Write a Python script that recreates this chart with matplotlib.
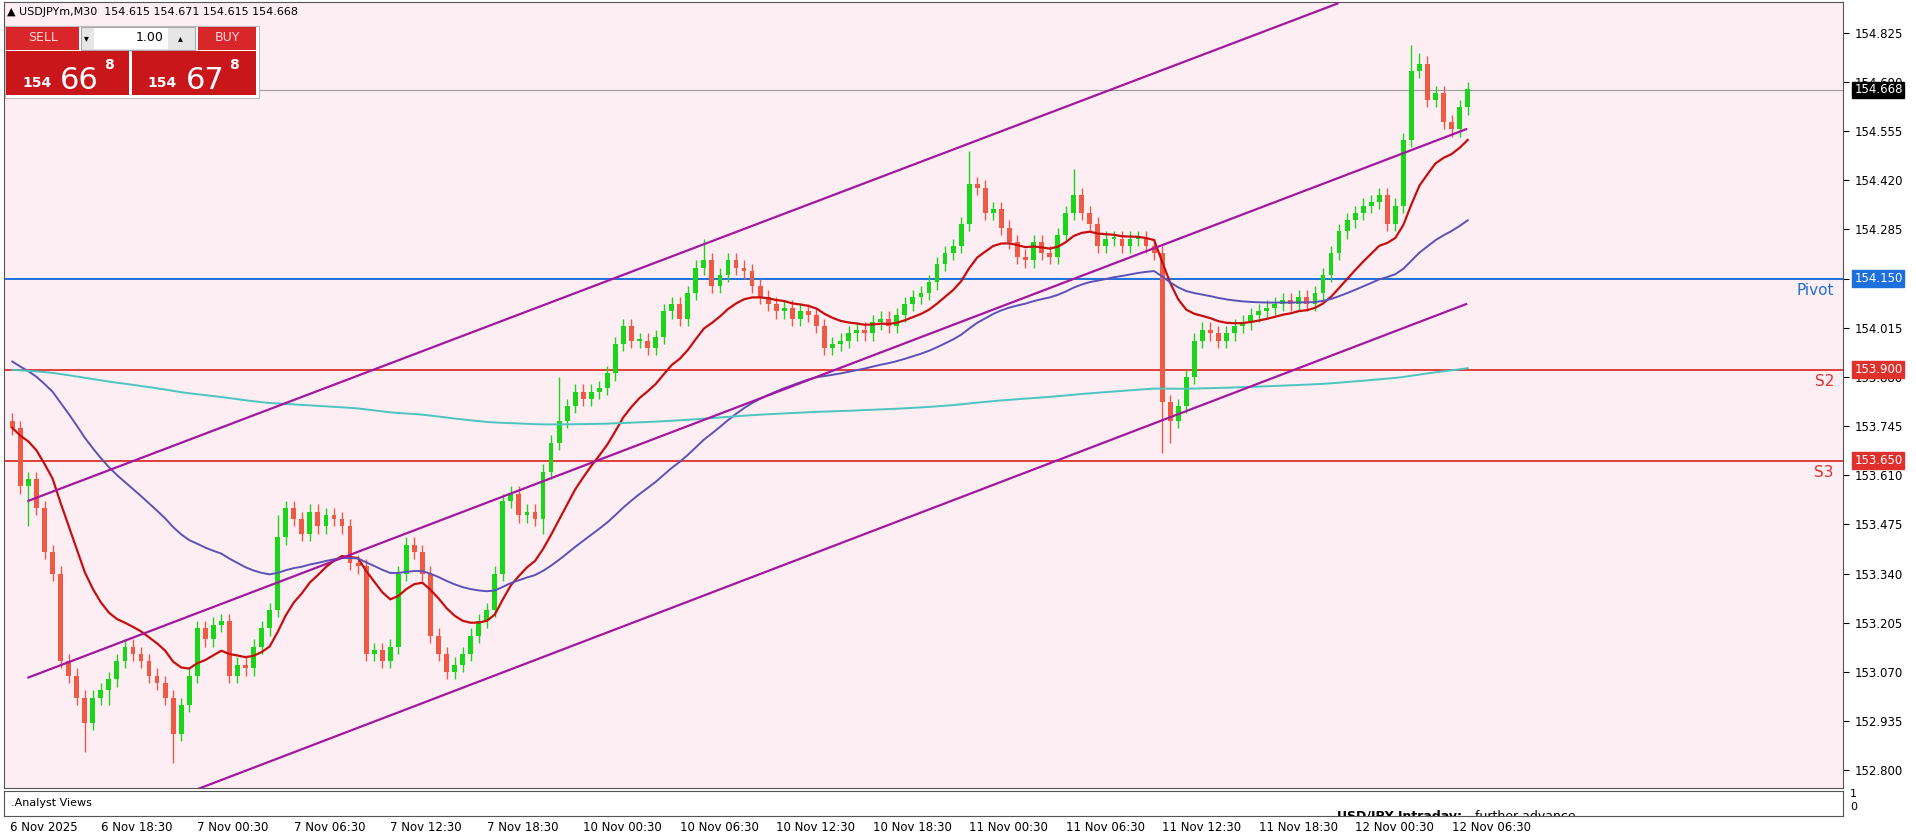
import matplotlib
matplotlib.use("Agg")
import matplotlib.pyplot as plt
import matplotlib.transforms as mtransforms
from matplotlib.patches import Rectangle
import numpy as np
import pandas as pd

closes = [
 153.74,153.58,153.60,153.52,153.40,153.34,153.10,153.06,153.00,152.93,
 153.00,153.02,153.05,153.10,153.14,153.12,153.10,153.06,153.04,153.00,
 152.90,152.98,153.06,153.19,153.16,153.20,153.21,153.06,153.09,153.08,
 153.14,153.19,153.24,153.44,153.52,153.49,153.45,153.51,153.47,153.50,
 153.49,153.47,153.37,153.36,153.12,153.13,153.10,153.14,153.34,153.42,
 153.40,153.34,153.17,153.12,153.07,153.09,153.12,153.17,153.21,153.24,
 153.34,153.54,153.56,153.50,153.51,153.49,153.62,153.70,153.76,153.80,
 153.84,153.82,153.84,153.85,153.89,153.97,154.02,153.98,153.98,153.96,
 153.99,154.06,154.08,154.04,154.11,154.18,154.20,154.13,154.16,154.20,
 154.18,154.17,154.13,154.10,154.08,154.06,154.07,154.04,154.06,154.05,
 154.02,153.96,153.97,153.98,154.00,154.01,154.00,154.03,154.04,154.02,
 154.05,154.08,154.10,154.11,154.14,154.19,154.22,154.24,154.30,154.41,
 154.40,154.33,154.34,154.29,154.25,154.21,154.20,154.25,154.22,154.21,
 154.27,154.33,154.38,154.33,154.30,154.24,154.26,154.26,154.24,154.26,
 154.26,154.24,154.22,153.81,153.76,153.80,153.88,153.98,154.01,154.00,
 153.98,154.00,154.02,154.03,154.05,154.06,154.07,154.08,154.09,154.08,
 154.10,154.08,154.11,154.16,154.22,154.28,154.31,154.33,154.35,154.36,
 154.38,154.30,154.35,154.53,154.72,154.74,154.64,154.66,154.58,154.56,
 154.62,154.67]
first_open = 153.76
long_highs = {119: 154.50, 132: 154.45, 174: 154.79, 175: 154.77, 68: 153.88, 86: 154.26, 33: 153.50}
long_lows = {9: 152.85, 20: 152.82, 143: 153.67, 144: 153.70, 66: 153.45, 2: 153.47, 12: 152.98}
default_wick = 0.02

seed_mid = 153.93
seed_slow = 153.90

upper_ch = ([2, 164.8], [153.54, 154.905])
middle_ch = ([2, 180.8], [153.055, 154.56])
lower_ch = ([23.2, 180.8], [152.75, 154.08])

pivot, s2, s3, last = 154.150, 153.900, 153.650, 154.668
tick_labels_x = ["6 Nov 18:30","7 Nov 00:30","7 Nov 06:30","7 Nov 12:30","7 Nov 18:30",
                 "10 Nov 00:30","10 Nov 06:30","10 Nov 12:30","10 Nov 18:30","11 Nov 00:30",
                 "11 Nov 06:30","11 Nov 12:30","11 Nov 18:30","12 Nov 00:30","12 Nov 06:30"]

W, H = 1570.0, 688.0
def fx(x): return x / W
def fy(y): return 1 - y / H

bg = "#fdeef3"
fig = plt.figure(figsize=(19.16, 8.4), dpi=100, facecolor="white")
ax = fig.add_axes([0.002, 0.0625, 0.960, 0.935], facecolor=bg)
n = len(closes)
c = np.array(closes)
o = np.concatenate([[first_open], c[:-1]])
hi = np.maximum(o, c) + default_wick
lo = np.minimum(o, c) - default_wick
for k, v in long_highs.items(): hi[k] = v
for k, v in long_lows.items(): lo[k] = v
idx = np.arange(n)
up = c >= o
gcol, rcol = "#19d619", "#ef5a46"
cols = np.where(up, gcol, rcol)
ax.vlines(idx, lo, hi, colors=cols, lw=1, zorder=3)
ax.bar(idx, np.maximum(np.abs(c - o), 0.004), bottom=np.minimum(o, c), width=0.6, color=cols, zorder=4)

s = pd.Series(c)
ema_fast = s.ewm(span=14, adjust=False).mean()
ema_mid = pd.Series(np.concatenate([[seed_mid], c])).ewm(span=48, adjust=False).mean()[1:]
ema_slow = pd.Series(np.concatenate([[seed_slow], c])).ewm(span=500, adjust=False).mean()[1:]
ax.plot(idx, ema_fast, color="#c80f0f", lw=1.6, zorder=5)
ax.plot(idx, ema_mid, color="#5b52b8", lw=1.4, zorder=5)
ax.plot(idx, ema_slow, color="#4cc4c0", lw=1.4, zorder=5)

for xs, ys in (upper_ch, middle_ch, lower_ch):
    ax.plot(xs, ys, color="#a3189f", lw=1.6, zorder=6)

ax.axhline(pivot, color="#1e6fdc", lw=1.4, zorder=2)
ax.axhline(s2, color="#e0302c", lw=1.3, zorder=2)
ax.axhline(s3, color="#e0302c", lw=1.3, zorder=2)
ax.axhline(last, color="#9a9a9a", lw=0.8, zorder=2)

ax.set_xlim(-1.06, 227.7)
ax.set_ylim(152.753, 154.909)
ticks = [152.800 + 0.135 * k for k in range(16)]
ax.yaxis.tick_right()
ax.set_yticks(ticks)
ax.set_yticklabels([f"{t:.3f}" for t in ticks], fontsize=8.5)
ax.tick_params(axis="y", length=4, pad=4)
ax.set_xticks([])
for sp in ax.spines.values():
    sp.set_color("#555555"); sp.set_linewidth(0.8)

tr = mtransforms.blended_transform_factory(ax.transAxes, ax.transData)
for val, fc in ((last, "black"), (pivot, "#1e6fdc"), (s2, "#e0302c"), (s3, "#e0302c")):
    ax.text(1.006, val, f"{val:.3f}", transform=tr, fontsize=8.5, color="white", va="center",
            ha="left", bbox=dict(boxstyle="square,pad=0.15", fc=fc, ec=fc), clip_on=False, zorder=10)
for val, lab, col in ((pivot, "Pivot", "#1e6fdc"), (s2, "S2", "#e0302c"), (s3, "S3", "#e0302c")):
    ax.text(0.995, val - 0.012, lab, transform=tr, fontsize=11, color=col, ha="right", va="top")

# indicator pane
ax2 = fig.add_axes([0.002, 0.029, 0.960, 0.029], facecolor="white")
ax2.set_xlim(0, 1); ax2.set_ylim(0, 1)
ax2.set_xticks([]); ax2.set_yticks([])
for sp in ax2.spines.values():
    sp.set_color("#555555"); sp.set_linewidth(0.8)
ax2.text(0.004, 0.5, ".Analyst Views", fontsize=8, va="center")
ax2.text(0.725, -0.05, "USD/JPY Intraday:", fontsize=9, fontweight="bold", va="center", clip_on=True)
ax2.text(0.80, -0.05, "further advance.", fontsize=9, va="center", clip_on=True)
fig.text(fx(1516), fy(650), "1", fontsize=8, va="center")
fig.text(fx(1516), fy(661), "0", fontsize=8, va="center")

# x labels
fig.text(fx(8), fy(678), "6 Nov 2025", fontsize=8.5, va="center")
xtr = mtransforms.blended_transform_factory(ax.transData, fig.transFigure)
for i, lab in enumerate(tick_labels_x):
    b = 11 + 12 * i
    fig.text(b, fy(678), lab, transform=xtr, fontsize=8.5, va="center")

# header + trade panel
fig.text(fx(6), fy(10), "\u25B2 USDJPYm,M30  154.615 154.671 154.615 154.668", fontsize=8, va="center")
def rect(x0, y0, x1, y1, fc, ec="none"):
    fig.add_artist(Rectangle((fx(x0), fy(y1)), fx(x1) - fx(x0), fy(y0) - fy(y1),
                             transform=fig.transFigure, fc=fc, ec=ec, lw=0.8))
rect(4, 21, 212, 80, "white", "#bbbbbb")
rect(5, 22, 65, 41, "#d9262a")
rect(66, 22, 160, 41, "#e6e6e6", "#aaaaaa")
rect(77, 23, 138, 40, "white")
rect(162, 22, 210, 41, "#d9262a")
rect(5, 42, 106, 78, "#c9161b")
rect(108, 42, 210, 78, "#c9161b")
fig.text(fx(35), fy(31), "SELL", fontsize=9, color="#ffd9d9", ha="center", va="center")
fig.text(fx(186), fy(31), "BUY", fontsize=9, color="#ffd9d9", ha="center", va="center")
fig.text(fx(134), fy(31), "1.00", fontsize=9, ha="right", va="center")
fig.text(fx(71), fy(31), "\u25BE", fontsize=7, ha="center", va="center")
fig.text(fx(148), fy(31), "\u25B4", fontsize=7, ha="center", va="center")
for x0, big in ((30, "66"), (133, "67")):
    fig.text(fx(x0), fy(71), "154", fontsize=10, color="white", ha="center", va="baseline", fontweight="bold")
    fig.text(fx(x0 + 35), fy(73), big, fontsize=22, color="white", ha="center", va="baseline")
    fig.text(fx(x0 + 59), fy(53), "8", fontsize=10, color="white", ha="center", va="center", fontweight="bold")

fig.savefig("out.png", dpi=100, facecolor="white")
